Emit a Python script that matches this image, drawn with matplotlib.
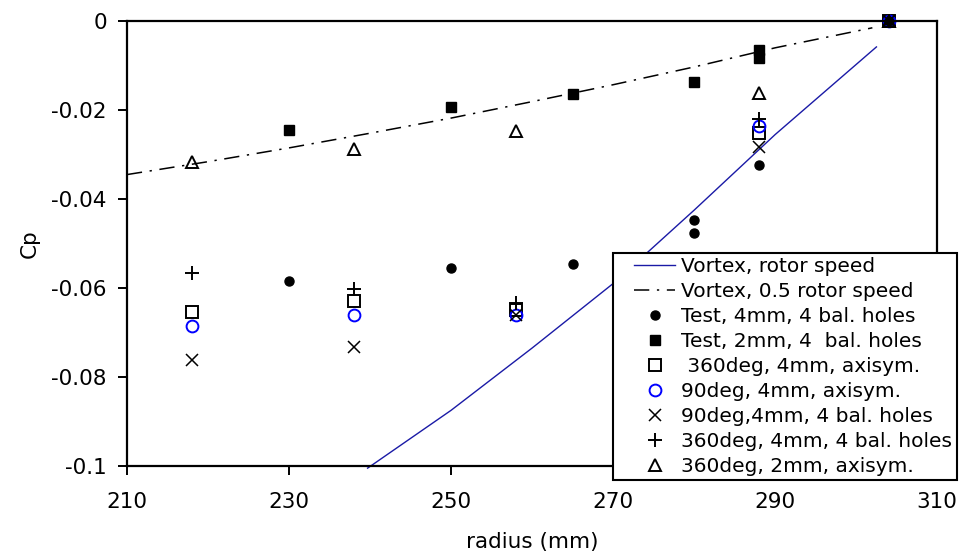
import matplotlib.pyplot as plt
from matplotlib.lines import Line2D
from matplotlib.legend_handler import HandlerLine2D

plt.rcParams['font.family'] = ['DejaVu Sans']

# theoretical vortex curves
r_vortex = [239.7, 250, 260, 270, 280, 290, 302.5]
cp_vortex = [-0.1005, -0.0875, -0.0735, -0.059, -0.0425, -0.0255, -0.0058]
r_half = [210, 220, 230, 240, 250, 260, 270, 280, 290, 302]
cp_half = [-0.0345, -0.0316, -0.0285, -0.0252, -0.0218, -0.0181, -0.0143, -0.0103, -0.006, -0.0015]

# measurements
r_test4 = [230, 250, 265, 280, 280, 288, 304]
cp_test4 = [-0.0584, -0.0555, -0.0546, -0.0447, -0.0476, -0.0324, 0.0]
r_test2 = [230, 250, 265, 280, 288, 288, 304]
cp_test2 = [-0.0245, -0.0193, -0.0164, -0.0137, -0.0065, -0.0083, 0.0]
r_cfd = [218, 238, 258, 288, 304]
cp_360_4_axi = [-0.0655, -0.0630, -0.0650, -0.0252, 0.0]
cp_90_4_axi = [-0.0685, -0.0660, -0.0660, -0.0236, 0.0]
cp_90_4_bal = [-0.0762, -0.0732, -0.0660, -0.0283, 0.0]
cp_360_4_bal = [-0.0566, -0.0603, -0.0633, -0.0220, 0.0]
cp_360_2_axi = [-0.0317, -0.0288, -0.0248, -0.0162, 0.0]

fig = plt.figure(figsize=(9.64, 5.56), dpi=100)
ax = fig.add_axes([0.1317, 0.162, 0.8405, 0.8])

ax.plot(r_vortex, cp_vortex, color='#1a1aa6', lw=1.0, clip_on=False,
        label='Vortex, rotor speed')
ax.plot(r_half, cp_half, color='black', lw=1.1, linestyle=(0, (10, 5, 1.5, 5)),
        label='Vortex, 0.5 rotor speed')
ax.plot(r_test4, cp_test4, 'o', color='black', ms=6.5, clip_on=False,
        label='Test, 4mm, 4 bal. holes')
ax.plot(r_test2, cp_test2, 's', color='black', ms=6.5, clip_on=False,
        label='Test, 2mm, 4  bal. holes')
ax.plot(r_cfd, cp_360_4_axi, 's', mfc='none', mec='black', mew=1.4, ms=8.5, clip_on=False,
        label=' 360deg, 4mm, axisym.')
ax.plot(r_cfd, cp_90_4_axi, 'o', mfc='none', mec='#0000ff', mew=1.4, ms=8.5, clip_on=False,
        label='90deg, 4mm, axisym.')
ax.plot(r_cfd, cp_90_4_bal, 'x', color='black', mew=1.1, ms=8.5, clip_on=False,
        label='90deg,4mm, 4 bal. holes')
ax.plot(r_cfd, cp_360_4_bal, '+', color='black', mew=1.4, ms=10, clip_on=False,
        label='360deg, 4mm, 4 bal. holes')
ax.plot(r_cfd, cp_360_2_axi, '^', mfc='none', mec='black', mew=1.4, ms=9, clip_on=False,
        label='360deg, 2mm, axisym.')

ax.set_xlim(210, 310)
ax.set_ylim(-0.1, 0)
ax.set_xticks([210, 230, 250, 270, 290, 310])
ax.set_yticks([0, -0.02, -0.04, -0.06, -0.08, -0.1])
ax.set_yticklabels(['0', '-0.02', '-0.04', '-0.06', '-0.08', '-0.1'])
ax.tick_params(direction='out', length=6.5, width=1.4, labelsize=15.5, pad=8)
ax.tick_params(axis='x', pad=12)
for s in ax.spines.values():
    s.set_linewidth(1.6)

ax.set_xlabel('radius (mm)', fontsize=15.5, labelpad=15)
ax.set_ylabel('Cp', fontsize=15.5, labelpad=8)

leg = ax.legend(loc='upper left', bbox_to_anchor=(613 / 964, 1 - 253 / 556),
                bbox_transform=fig.transFigure, fontsize=14.5, frameon=True,
                fancybox=False, borderpad=0.2, labelspacing=0.3,
                handlelength=2.9, handletextpad=0.3, borderaxespad=0,
                handler_map={Line2D: HandlerLine2D(xpad=0.85)})
leg.get_frame().set_edgecolor('black')
leg.get_frame().set_linewidth(1.5)
leg.get_frame().set_alpha(1)

fig.savefig('out.png', dpi=100)
